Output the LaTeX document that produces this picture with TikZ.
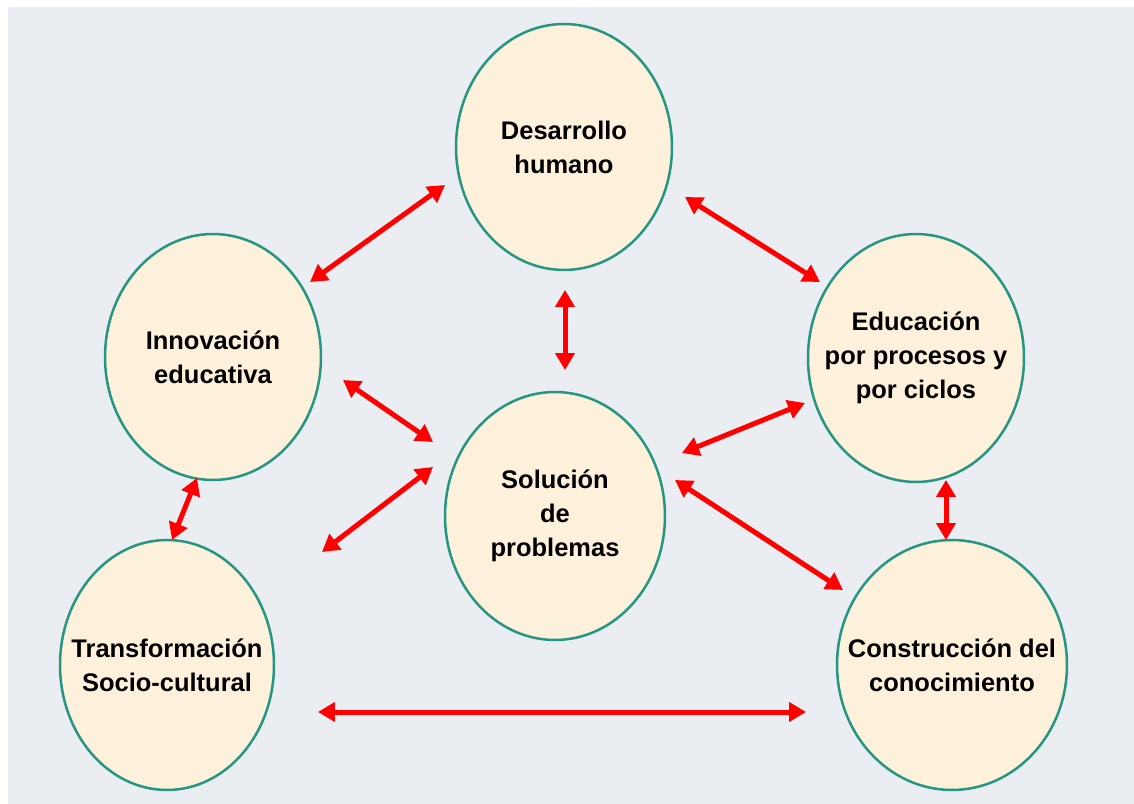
\documentclass[tikz,border=0pt]{standalone}
\usepackage{fontspec}
\setmainfont{Liberation Sans}
\usetikzlibrary{arrows.meta, calc, shapes.geometric}
\definecolor{bgpaper}{RGB}{234,237,242}
\definecolor{bubfill}{RGB}{253,241,219}
\definecolor{bubline}{RGB}{38,150,130}
\tikzset{
  bub/.style  = {ellipse, draw=bubline, fill=bubfill, line width=0.05cm, inner sep=0pt},
  txt/.style  = {align=center, inner sep=0pt, font=\bfseries\fontsize{14.5}{19.4}\selectfont},
  dbl/.style  = {{Triangle[length=3.4mm, width=3.8mm]}-{Triangle[length=3.4mm, width=3.8mm]},
                 line width=0.1cm, draw=red},
}
\begin{document}
\begin{tikzpicture}[x=0.02cm, y=-0.02cm]
\useasboundingbox (0,0) rectangle (1134,804);
\fill[bgpaper] (8,7) rectangle (1134,804);

% bubbles
\node[bub, minimum width=4.32cm, minimum height=4.92cm,
      label={[txt]center:Desarrollo\\humano}] (hum) at (564,147) {};
\node[bub, minimum width=4.32cm, minimum height=4.92cm,
      label={[txt]center:Innovación\\educativa}] (inn) at (213,357) {};
\node[bub, minimum width=4.32cm, minimum height=4.96cm,
      label={[txt]center:Educación\\por procesos y\\por ciclos}] (edu) at (916,358) {};
\node[bub, minimum width=4.40cm, minimum height=4.96cm,
      label={[txt]center:Solución\\de\\problemas}] (sol) at (555,516) {};
\node[bub, minimum width=4.28cm, minimum height=5.00cm,
      label={[txt]center:Transformación\\Socio-cultural}] (tra) at (167,665) {};
\node[bub, minimum width=4.60cm, minimum height=5.00cm,
      label={[txt]center:Construcción del\\conocimiento}] (con) at (952,665) {};

% links
\draw[dbl] ($(hum)+(-119,38)$) -- ($(inn)+(97,-75)$);
\draw[dbl] ($(hum)+(121,50)$)  -- ($(edu)+(-96,-76)$);
\draw[dbl] ($(hum)+(1,143)$)   -- ($(sol)+(10,-146)$);
\draw[dbl] ($(inn)+(130,23)$)  -- ($(sol)+(-122,-74)$);
\draw[dbl] ($(sol)+(-122,-49)$) -- ($(tra)+(155,-113)$);
\draw[dbl] ($(sol)+(127,-63)$) -- ($(edu)+(-111,45)$);
\draw[dbl] ($(sol)+(120,-36)$) -- ($(con)+(-109,-75)$);
\draw[dbl] ($(inn)+(-16,121)$) -- ($(tra)+(5,-125)$);
\draw[dbl] ($(edu)+(30,122)$)  -- ($(con)+(-6,-125)$);
\draw[dbl] ($(tra)+(151,47)$)  -- ($(con)+(-146,47)$);
\end{tikzpicture}
\end{document}
